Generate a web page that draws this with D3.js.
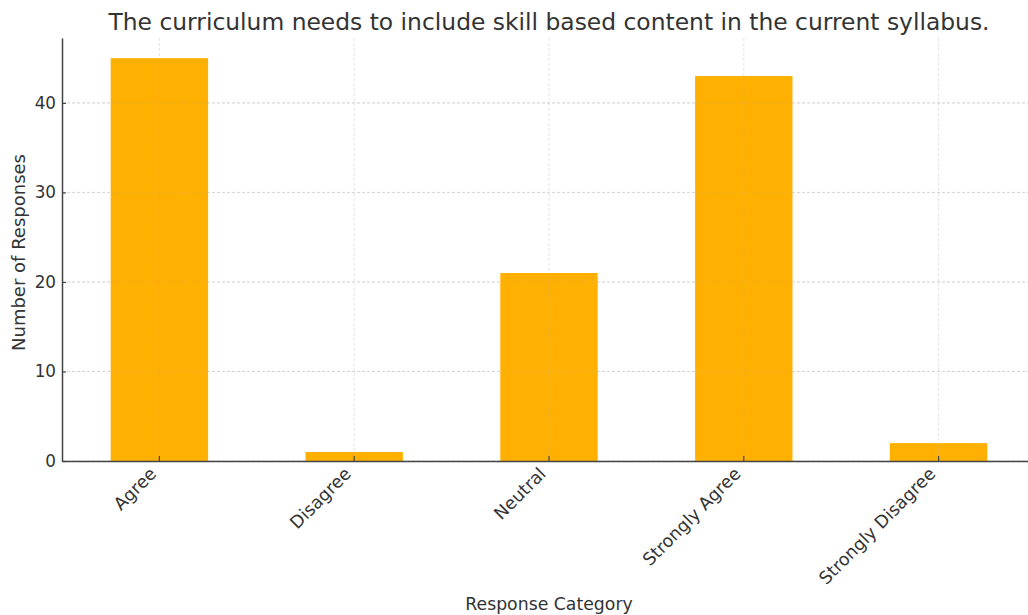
<!DOCTYPE html>
<html><head><meta charset="utf-8">
<script src="https://cdn.jsdelivr.net/npm/d3@7"></script>
<style>body{margin:0;background:#fff}svg{display:block}text{font-family:"DejaVu Sans",sans-serif}</style>
</head><body><svg id="c" width="1028" height="615"></svg>
<script>
const categories = ["Agree","Disagree","Neutral","Strongly Agree","Strongly Disagree"];
const values = [45,1,21,43,2];
const yTicks = [0,10,20,30,40];
const title = "The curriculum needs to include skill based content in the current syllabus.";
const xLabel = "Response Category";
const yLabel = "Number of Responses";

const svg = d3.select("#c");
const L = 62, R = 1036, T = 38, B = 461;
const x = d3.scaleBand().domain(categories).range([L, R]).paddingInner(0.5).paddingOuter(0.25);
const y = d3.scaleLinear().domain([0, 47.25]).range([B, T]);

// grid under bars
svg.append("g").selectAll("line").data(yTicks).join("line")
  .attr("x1", L).attr("x2", R).attr("y1", d=>y(d)).attr("y2", d=>y(d))
  .attr("stroke","#d8d8d8").attr("stroke-width",0.8).attr("stroke-dasharray","3,2");

// bars
svg.append("g").selectAll("rect").data(categories).join("rect")
  .attr("x", d=>x(d)).attr("width", x.bandwidth())
  .attr("y", (d,i)=>y(values[i])).attr("height", (d,i)=>B - y(values[i]))
  .attr("fill","#ffb000");

// grid over bars
svg.append("g").selectAll("line").data(categories).join("line")
  .attr("x1", d=>x(d)+x.bandwidth()/2).attr("x2", d=>x(d)+x.bandwidth()/2)
  .attr("y1", T).attr("y2", B)
  .attr("stroke","#b0b0b0").attr("stroke-opacity",0.45).attr("stroke-width",0.8).attr("stroke-dasharray","3,2");
svg.append("g").selectAll("line").data(yTicks).join("line")
  .attr("x1", L).attr("x2", R).attr("y1", d=>y(d)).attr("y2", d=>y(d))
  .attr("stroke","#b0b0b0").attr("stroke-opacity",0.3).attr("stroke-width",0.8).attr("stroke-dasharray","3,2");

// axes
const yAxis = d3.axisLeft(y).tickValues(yTicks).tickSizeInner(-4).tickSizeOuter(0).tickPadding(6);
const ya = svg.append("g").attr("transform",`translate(${L},0)`).call(yAxis);
ya.select(".domain").attr("stroke","#444").attr("stroke-width",1.5);
ya.selectAll(".tick line").attr("stroke","#444").attr("stroke-width",1.2);
ya.selectAll("text").attr("font-size",16.8).attr("fill","#333");

const xAxis = d3.axisBottom(x).tickSizeInner(-5).tickSizeOuter(0).tickPadding(8);
const xa = svg.append("g").attr("transform",`translate(0,${B})`).call(xAxis);
xa.select(".domain").attr("stroke","#444").attr("stroke-width",1.5);
xa.selectAll(".tick line").attr("stroke","#444").attr("stroke-width",1.2);
xa.selectAll("text").attr("font-size",17.5).attr("fill","#333")
  .attr("text-anchor","end").attr("dy",null).attr("y",0).attr("x",0)
  .attr("transform","translate(-2,14) rotate(-45)");

svg.append("text").attr("x",(L+R)/2).attr("y",30).attr("text-anchor","middle")
  .attr("font-size",23.4).attr("fill","#333").text(title);
svg.append("text").attr("x",(L+R)/2).attr("y",610).attr("text-anchor","middle")
  .attr("font-size",17.3).attr("fill","#333").text(xLabel);
svg.append("text").attr("transform",`translate(25,${(T+B)/2+3}) rotate(-90)`).attr("text-anchor","middle")
  .attr("font-size",18).attr("fill","#333").text(yLabel);
</script></body></html>
